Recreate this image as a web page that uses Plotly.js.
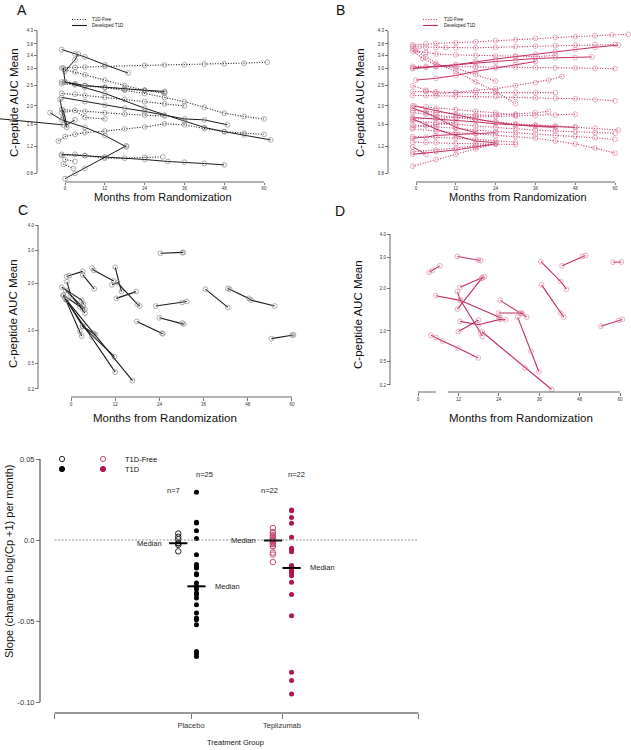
<!DOCTYPE html>
<html><head><meta charset="utf-8">
<script src="https://cdn.plot.ly/plotly-3.0.1.min.js"></script>
<style>html,body{margin:0;padding:0;background:#fff}#chart{width:631px;height:750px}</style>
</head><body><div id="chart"></div>
<script>
// ================= DATA =================
const monthTicks = [0, 12, 24, 36, 48, 60];
const cpTicksAB = [0.8, 1.2, 1.6, 2.0, 2.5, 3.0, 3.4, 3.8, 4.3];
const cpTickTextAB = ['0.8','1.2','1.6','2.0','2.5','3.0','3.4','3.8','4.3'];
const cpTicksCD = [0.2, 0.5, 1.0, 2.0, 3.0, 4.0];
const cpTickTextCD = ['0.2','0.5','1.0','2.0','3.0','4.0'];

// Panel A (placebo): each entry = [months, C-peptide]
const aFree = [
  [[-1,3,6,12,24,30,36,42,48,54,61],[3.0,3.02,3.03,3.05,3.08,3.09,3.1,3.12,3.13,3.15,3.18]],
  [[0,3,6,12,18,24,30],[2.95,2.88,2.8,2.65,2.5,2.38,2.3]],
  [[-1,3,6,12,18,24,30],[2.55,2.52,2.5,2.45,2.4,2.37,2.33]],
  [[-1,3,6,12,18,24,30,36,42,48,54,60],[2.6,2.55,2.5,2.45,2.38,2.3,2.2,2.1,1.97,1.84,1.77,1.72]],
  [[-1,3,6,12,18,24,30,36],[2.3,2.28,2.25,2.2,2.15,2.1,2.05,2.0]],
  [[-1,6,12,18,24,30],[1.92,1.88,1.85,1.82,1.8,1.78]],
  [[-1,3,6,12],[1.85,1.9,1.75,1.72]],
  [[-2,0,3,6,12,18,24,30,36,42,48,54,60],[1.3,1.38,1.42,1.45,1.48,1.52,1.56,1.62,1.6,1.53,1.47,1.44,1.42]],
  [[-1,3,6,12,18,24,29.5],[1.06,1.08,1.06,1.02,1.02,1.03,1.04]],
  [[-0.5,2.5],[0.93,0.87]],
  [[0,3],[1.0,0.97]]
];
const aT1D = [
  [[-1,3,6,12,19],[3.6,3.45,3.35,3.1,2.85]],
  [[0,3,4],[2.9,3.25,3.45]],
  [[-0.5,0,6,12,18,24,30],[3.0,2.6,2.5,2.45,2.42,2.38,2.35]],
  [[0,6,12,24,36,42,48,54,62],[2.6,2.45,2.3,1.95,1.67,1.55,1.47,1.41,1.32]],
  [[-1,6,12,18,24,30,36,42,49],[2.2,2.1,2.02,1.95,1.88,1.8,1.72,1.7,1.6]],
  [[-1,6,12,24,31,36,42,48],[1.08,1.06,1.04,1.0,0.97,0.96,0.94,0.92]],
  [[0,3,6,18.5],[0.73,0.8,0.87,1.22]],
  [[-4.5,-1,6,12,18.5],[1.85,1.7,1.55,1.4,1.2]],
  [[-21,-0.5],[1.73,1.6]],
  [[-1.5,-0.5,0.5],[2.15,1.75,1.55]],
  [[-0.5,0.5,3],[1.9,1.6,1.7]]
];

// Panel B (teplizumab)
const bFree = [
  [[-1,3,6,12,18,24,30,36,42,48,54,59,64],[3.77,3.8,3.82,3.85,3.88,3.92,3.95,4.01,4.04,4.07,4.11,4.14,4.16]],
  [[-1,1,3,6,9,12,18,24,30,36,42,48,54,60],[3.72,3.7,3.68,3.68,3.67,3.66,3.66,3.68,3.7,3.72,3.74,3.76,3.78,3.78]],
  [[-1,0,3,6,12,18,24,30,36,42],[3.65,3.55,3.5,3.45,3.42,3.4,3.38,3.38,3.36,3.4]],
  [[-0.5,3,6,12,18,24,30],[3.6,3.35,3.15,2.9,2.6,2.35,2.05]],
  [[-1,2,6,12,18,24],[3.55,3.3,3.1,3.0,2.8,2.62]],
  [[-1,3,6,12,18,24,30,36,42,48,54,60],[3.05,3.05,3.04,3.05,3.04,3.03,3.02,3.02,3.0,3.0,2.99,2.98]],
  [[-1,3,6,12,18,24,30,36,40,44],[2.5,2.38,2.3,2.32,2.38,2.42,2.5,2.58,2.65,2.75]],
  [[-1,3,6,12,18,24,30,36,42],[2.35,2.35,2.34,2.32,2.32,2.32,2.33,2.32,2.32]],
  [[-1,3,6,12,18,24,30,36,42,48,54,60],[2.25,2.25,2.24,2.23,2.22,2.22,2.2,2.19,2.18,2.17,2.15,2.12]],
  [[-1,3,6,12,18,24,30],[2.0,1.98,1.95,1.92,1.88,1.85,1.8]],
  [[-1,6,12,18,24,30,36,42,48],[1.72,1.74,1.75,1.76,1.77,1.78,1.79,1.8,1.82]],
  [[-1,3,6,12,18,24,30,36,42,48,54,61],[1.85,1.82,1.8,1.75,1.7,1.66,1.62,1.6,1.58,1.56,1.53,1.5]],
  [[-1,6,12,18,24,30,36,42,48,54,60],[1.68,1.64,1.6,1.58,1.55,1.52,1.5,1.48,1.47,1.45,1.44]],
  [[-1,6,12,18,24,30,36,42,48,54,60],[1.6,1.56,1.53,1.5,1.47,1.45,1.42,1.4,1.38,1.36,1.33]],
  [[-1,6,12,18,24,30,36,42,48,54,60],[1.52,1.48,1.45,1.43,1.4,1.38,1.35,1.3,1.25,1.18,1.1]],
  [[-1,6,12,18,24,30],[1.38,1.37,1.35,1.33,1.3,1.28]],
  [[-1,6,12,18,24],[1.12,1.15,1.18,1.22,1.25]],
  [[-1,6,12,18,24],[0.9,1.0,1.08,1.17,1.25]],
  [[-1,3,6,12,18,24,30,36,40],[1.9,1.88,1.85,1.82,1.8,1.8,1.82,1.85,1.88]],
  [[-1,3,6,12],[1.55,1.58,1.6,1.65]],
  [[-1,3,6,12,18,24,30],[1.28,1.28,1.27,1.26,1.25,1.25,1.24]]
];
const bT1D = [
  [[-1,3,6,12,18,24,30,36,42,48,54,61],[3.0,3.02,3.05,3.1,3.2,3.28,3.36,3.44,3.52,3.6,3.68,3.76]],
  [[-1,6,12,18,24,30,36,42,48,53],[2.98,3.05,3.1,3.15,3.2,3.25,3.3,3.32,3.33,3.35]],
  [[0,6,12,18,24,30,36],[2.65,2.7,2.78,2.9,3.0,3.1,3.2]],
  [[-0.5,6,12,18,24,30,36,42],[2.0,1.9,1.8,1.72,1.65,1.6,1.57,1.55]],
  [[-1,6,12,18,24,30,36,42,48],[1.75,1.72,1.7,1.66,1.62,1.6,1.58,1.56,1.55]],
  [[-1,3,6,12,18,24],[1.72,1.6,1.52,1.4,1.3,1.27]],
  [[-1,3,6,12,18,24],[1.35,1.37,1.4,1.42,1.44,1.45]],
  [[-1,3],[1.2,1.08]],
  [[-1,6,12,18,24],[1.08,1.12,1.15,1.2,1.25]],
  [[-1,3,6,9,12,18],[1.95,1.85,1.75,1.65,1.55,1.45]]
];

// Panel C (placebo, after diagnosis) and D (teplizumab, after diagnosis)
const cSegments = [
  [[24.3,30.2,30.5],[2.91,2.93,2.94]],
  [[23.0,30.2,31.4],[1.47,1.55,1.57]],
  [[24.0,30.2,30.6],[1.23,1.13,1.11]],
  [[17.9,24.7,24.9],[1.16,0.95,0.94]],
  [[36.5,42.6],[1.86,1.44]],
  [[42.6,43.1,48.3,48.9,55.3],[1.88,1.86,1.64,1.6,1.47]],
  [[54.4,60.1,60.4],[0.86,0.92,0.92]],
  [[12.0,13.7],[2.46,1.80]],
  [[11.1,12.6,18.0,18.7],[1.97,2.03,1.51,1.47]],
  [[12.3,17.7],[1.64,1.80]],
  [[-1.2,-0.45,3.2],[2.19,2.22,2.34]],
  [[5.7,6.2,11.6],[2.44,2.37,2.07]],
  [[3.2,6.3],[2.24,1.87]],
  [[-2.5,2.9,3.4],[1.91,1.6,1.51]],
  [[-1.4,3.2,3.8],[1.83,1.46,1.40]],
  [[-1.1,0.0,3.2],[2.05,1.70,1.40]],
  [[-2.1,2.4,3.8],[1.72,1.46,1.32]],
  [[-1.6,2.4,2.9],[1.64,0.98,0.90]],
  [[-1.2,3.2,6.0,6.5],[1.60,1.07,0.95,0.92]],
  [[3.2,11.8],[1.07,0.59]],
  [[-2.1,5.7,12.0],[1.70,0.88,0.39]],
  [[-1.2,6.5,16.7],[1.60,0.93,0.29]]
];
const dSegments = [
  [[3.3,4.3,6.5],[2.48,2.54,2.70]],
  [[11.7,17.9,18.6],[3.04,2.91,2.89]],
  [[12.5,18.9,19.7],[2.02,2.29,2.34]],
  [[11.7,19.1],[1.46,2.31]],
  [[5.3,12.5,24.0,24.5],[1.79,1.67,1.28,1.26]],
  [[11.7,12.5,18.6,19.1],[1.90,1.69,0.96,0.90]],
  [[19.1,31.8,39.7],[0.98,0.41,0.15]],
  [[12.5,18.0,24.4,26.0],[1.19,1.12,1.23,1.22]],
  [[12.0,18.0],[0.99,1.22]],
  [[3.9,5.4,7.3,12.0,17.9],[0.92,0.88,0.82,0.70,0.55]],
  [[24.4,30.3,30.8],[1.67,1.37,1.35]],
  [[23.9,30.8,32.3],[1.37,1.37,1.28]],
  [[29.6,33.6,35.9],[1.28,0.65,0.36]],
  [[36.5,42.4,44.1],[2.85,2.19,1.97]],
  [[36.7,42.4,43.3],[2.09,1.37,1.28]],
  [[42.8,48.8,49.7],[2.70,3.04,3.08]],
  [[54.3,59.7,60.7],[1.09,1.21,1.23]],
  [[57.9,60.4],[2.83,2.84]]
];

// Panel E: slopes
const groupNames = ['Placebo', 'Teplizumab'];
const slopePlaceboFree = [0.004, 0.002, 0.0005, -0.002, -0.002, -0.003, -0.007];
const slopePlaceboT1D = [0.0294, 0.0109, 0.0105, 0.0057, 0.001, -0.0091, -0.0152, -0.0165, -0.0173, -0.0208, -0.0215, -0.0265, -0.0286, -0.0302, -0.0327, -0.0338, -0.0358, -0.0399, -0.045, -0.0481, -0.0492, -0.0523, -0.0688, -0.0702, -0.0719];
const slopeTepFree = [0.0074, 0.0049, 0.0043, 0.003, 0.0025, 0.0015, 0.001, 0.0004, 0.0002, 0.0, -0.0002, -0.0004, -0.0006, -0.001, -0.0016, -0.002, -0.0025, -0.0037, -0.004, -0.0078, -0.009, -0.0136];
const slopeTepT1D = [0.0185, 0.018, 0.0139, 0.0104, 0.0017, -0.0051, -0.0061, -0.0072, -0.0158, -0.0164, -0.017, -0.0175, -0.0185, -0.0193, -0.0203, -0.022, -0.0261, -0.0337, -0.0467, -0.0817, -0.0868, -0.0951];
const slopeTicks = [0.05, 0.0, -0.05, -0.10];
const slopeTickText = ['0.05', '0.0', '-0.05', '-0.10'];

// ================= STYLE / GEOMETRY =================
const W = 631, H = 750;
const FONT = 'Liberation Sans, Arial, sans-serif';
const BLACK_LINE = '#1a1a1a', GRAY_MK = '#8a8a8a';
const CRIMSON_LINE = '#C42C5E', PINK_MK = '#DC8AA6';
const CRIMSON_DOT = '#B3164B', CRIMSON_OPEN = '#C94F78';
const DOTTED = '1px,1.6px';
const toV = c => Math.log(c + 1);
const fx = px => px / W;
const fy = py => 1 - py / H;

function xAxis(dom, zeroPx, ppu, posPy, vals, text, fs, tl) {
  return { domain: [fx(dom[0]), fx(dom[1])], range: [(dom[0] - zeroPx) / ppu, (dom[1] - zeroPx) / ppu],
    anchor: 'free', position: fy(posPy), tickmode: 'array', tickvals: vals, ticktext: text,
    ticks: 'outside', ticklen: tl, tickwidth: 0.8, tickcolor: '#555', tickfont: { size: fs, color: '#333', family: FONT },
    showgrid: false, zeroline: false, showline: false, fixedrange: true };
}
function yAxis(dom, refPy, refVal, ppu, posPx, vals, text, fs, tl) {
  return { domain: [fy(dom[1]), fy(dom[0])], range: [refVal - (dom[1] - refPy) / ppu, refVal + (refPy - dom[0]) / ppu],
    anchor: 'free', position: fx(posPx), tickmode: 'array', tickvals: vals, ticktext: text,
    ticks: 'outside', ticklen: tl, tickwidth: 0.8, tickcolor: '#555', tickfont: { size: fs, color: '#333', family: FONT },
    showgrid: false, zeroline: false, showline: false, fixedrange: true };
}

const G = {
  A: { xd: [0, 281], x0: 65, xppu: 3.317, yd: [12, 190], yRefPy: 68, yRef: toV(3.0), yppu: 132, yPos: 37, xPos: 182 },
  B: { xd: [345, 631], x0: 416, xppu: 3.317, yd: [12, 190], yRefPy: 68, yRef: toV(3.0), yppu: 132, yPos: 388, xPos: 182 },
  C: { xd: [28, 300], x0: 71, xppu: 3.683, yd: [212, 402], yRefPy: 225, yRef: toV(4.0), yppu: 114.9, yPos: 38, xPos: 397 },
  D: { xd: [396, 631], x0: 418, xppu: 3.367, yd: [212, 402], yRefPy: 234, yRef: toV(4.0), yppu: 105.8, yPos: 390, xPos: 392 },
  E: { xd: [45, 430], x0: 100, xppu: 91, yd: [445, 712], yRefPy: 540, yRef: 0, yppu: 1620, yPos: 40, xPos: 713 }
};

// ================= TRACES =================
const traces = [];
function addLines(list, xa, ya, dash, lc, mc, lw) {
  list.forEach(p => traces.push({
    x: p[0], y: p[1].map(toV), xaxis: xa, yaxis: ya, type: 'scatter', mode: 'lines+markers',
    line: { color: lc, width: lw, dash: dash },
    marker: { symbol: 'circle-open', size: 4.8, color: mc, line: { width: 0.7 } },
    hoverinfo: 'skip', showlegend: false
  }));
}
addLines(aFree, 'x', 'y', DOTTED, BLACK_LINE, GRAY_MK, 1.1);
addLines(aT1D, 'x', 'y', 'solid', BLACK_LINE, GRAY_MK, 1.0);
addLines(bFree, 'x2', 'y2', DOTTED, CRIMSON_LINE, PINK_MK, 1.1);
addLines(bT1D, 'x2', 'y2', 'solid', CRIMSON_LINE, PINK_MK, 1.0);
addLines(cSegments, 'x3', 'y3', 'solid', BLACK_LINE, GRAY_MK, 1.1);
addLines(dSegments, 'x4', 'y4', 'solid', CRIMSON_LINE, PINK_MK, 1.1);

// Panel E
const median = a => { const s = [...a].sort((p, q) => p - q); const n = s.length; return n % 2 ? s[(n - 1) / 2] : (s[n / 2 - 1] + s[n / 2]) / 2; };
const eGroups = [
  { vals: slopePlaceboFree, xc: 0.86, filled: false, color: '#222', medSide: 'left', nDx: -0.05, nY: 0.0307 },
  { vals: slopePlaceboT1D, xc: 1.06, filled: true, color: '#000', medSide: 'right', nDx: 0.09, nY: 0.0407 },
  { vals: slopeTepFree, xc: 1.90, filled: false, color: CRIMSON_OPEN, medSide: 'left', nDx: -0.04, nY: 0.0307 },
  { vals: slopeTepT1D, xc: 2.105, filled: true, color: CRIMSON_DOT, medSide: 'right', nDx: 0.05, nY: 0.0407 }
];
const eAnn = [];
eGroups.forEach(g => {
  traces.push({
    x: g.vals.map(() => g.xc), y: g.vals, xaxis: 'x5', yaxis: 'y5', type: 'scatter', mode: 'markers',
    marker: g.filled ? { symbol: 'circle', size: 5, color: g.color } : { symbol: 'circle-open', size: 5.5, color: g.color, line: { width: 1 } },
    hoverinfo: 'skip', showlegend: false
  });
  const m = median(g.vals);
  traces.push({
    x: [g.xc - 0.1, g.xc + 0.1], y: [m, m], xaxis: 'x5', yaxis: 'y5', type: 'scatter', mode: 'lines',
    line: { color: '#000', width: 2 }, hoverinfo: 'skip', showlegend: false
  });
  eAnn.push({ xref: 'x5', yref: 'y5', x: g.medSide === 'left' ? g.xc - 0.16 : g.xc + 0.18, y: m,
    text: 'Median', showarrow: false, xanchor: g.medSide === 'left' ? 'right' : 'left', yanchor: 'middle',
    font: { size: 7.5, color: '#222', family: FONT } });
  eAnn.push({ xref: 'x5', yref: 'y5', x: g.xc + g.nDx, y: g.nY, text: 'n=' + g.vals.length, showarrow: false,
    xanchor: 'center', yanchor: 'middle', font: { size: 7.5, color: '#222', family: FONT } });
});

// ================= LAYOUT =================
const layout = {
  width: W, height: H, margin: { l: 0, r: 0, t: 0, b: 0 }, autosize: false,
  paper_bgcolor: '#fff', plot_bgcolor: 'rgba(0,0,0,0)', showlegend: false, font: { family: FONT },
  xaxis: xAxis(G.A.xd, G.A.x0, G.A.xppu, G.A.xPos, monthTicks, monthTicks.map(String), 4.5, 2),
  yaxis: yAxis(G.A.yd, G.A.yRefPy, G.A.yRef, G.A.yppu, G.A.yPos, cpTicksAB.map(toV), cpTickTextAB, 4.5, 3),
  xaxis2: xAxis(G.B.xd, G.B.x0, G.B.xppu, G.B.xPos, monthTicks, monthTicks.map(String), 4.5, 2),
  yaxis2: yAxis(G.B.yd, G.B.yRefPy, G.B.yRef, G.B.yppu, G.B.yPos, cpTicksAB.map(toV), cpTickTextAB, 4.5, 3),
  xaxis3: xAxis(G.C.xd, G.C.x0, G.C.xppu, G.C.xPos, monthTicks, monthTicks.map(String), 4.5, 3),
  yaxis3: yAxis(G.C.yd, G.C.yRefPy, G.C.yRef, G.C.yppu, G.C.yPos, cpTicksCD.map(toV), cpTickTextCD, 4.5, 3),
  xaxis4: xAxis(G.D.xd, G.D.x0, G.D.xppu, G.D.xPos, monthTicks, monthTicks.map(String), 4.5, 3),
  yaxis4: yAxis(G.D.yd, G.D.yRefPy, G.D.yRef, G.D.yppu, G.D.yPos, cpTicksCD.map(toV), cpTickTextCD, 4.5, 3),
  xaxis5: xAxis(G.E.xd, G.E.x0, G.E.xppu, G.E.xPos, [-0.5, 1, 2, 3.5], ['', groupNames[0], groupNames[1], ''], 7.5, 5),
  yaxis5: yAxis(G.E.yd, G.E.yRefPy, G.E.yRef, G.E.yppu, G.E.yPos, slopeTicks, slopeTickText, 7.5, 4)
};

// axis lines (R style: span first..last tick)
const AX = '#555';
const shapes = [];
function axisLines(g, xa, ya, yLo, yHi, xLo, xHi) {
  shapes.push({ type: 'line', xref: 'paper', yref: ya, x0: fx(g.yPos), x1: fx(g.yPos), y0: yLo, y1: yHi, line: { color: AX, width: 0.9 } });
  shapes.push({ type: 'line', xref: xa, yref: 'paper', x0: xLo, x1: xHi, y0: fy(g.xPos), y1: fy(g.xPos), line: { color: AX, width: 0.9 } });
}
axisLines(G.A, 'x', 'y', toV(0.8), toV(4.3), 0, 60);
axisLines(G.B, 'x2', 'y2', toV(0.8), toV(4.3), 0, 60);
axisLines(G.C, 'x3', 'y3', toV(0.2), toV(4.0), 0, 60);
// D: y line + broken x line
shapes.push({ type: 'line', xref: 'paper', yref: 'y4', x0: fx(G.D.yPos), x1: fx(G.D.yPos), y0: toV(0.2), y1: toV(4.0), line: { color: AX, width: 0.9 } });
shapes.push({ type: 'line', xref: 'x4', yref: 'paper', x0: 0, x1: 5.3, y0: fy(G.D.xPos), y1: fy(G.D.xPos), line: { color: AX, width: 0.9 } });
shapes.push({ type: 'line', xref: 'x4', yref: 'paper', x0: 8.9, x1: 60, y0: fy(G.D.xPos), y1: fy(G.D.xPos), line: { color: AX, width: 0.9 } });
// E axes
shapes.push({ type: 'line', xref: 'paper', yref: 'y5', x0: fx(G.E.yPos), x1: fx(G.E.yPos), y0: -0.10, y1: 0.05, line: { color: '#333', width: 1 } });
shapes.push({ type: 'line', xref: 'x5', yref: 'paper', x0: -0.5, x1: 3.5, y0: fy(G.E.xPos), y1: fy(G.E.xPos), line: { color: '#333', width: 1 } });
shapes.push({ type: 'line', xref: 'x5', yref: 'y5', x0: -0.5, x1: 3.5, y0: 0, y1: 0, line: { color: '#777', width: 0.8, dash: '2px,1.5px' } });

// small legends of A and B
function miniLegend(x0px, x1px, lc) {
  shapes.push({ type: 'line', xref: 'paper', yref: 'paper', x0: fx(x0px), x1: fx(x1px), y0: fy(19.5), y1: fy(19.5), line: { color: lc, width: 1.2, dash: DOTTED } });
  shapes.push({ type: 'line', xref: 'paper', yref: 'paper', x0: fx(x0px), x1: fx(x1px), y0: fy(25.5), y1: fy(25.5), line: { color: lc, width: 1.1 } });
}
miniLegend(72, 87, BLACK_LINE);
miniLegend(423, 438, CRIMSON_LINE);

// E legend markers
function dot(px, py, filled, color) {
  shapes.push({ type: 'circle', xref: 'paper', yref: 'paper', xsizemode: 'pixel', ysizemode: 'pixel',
    xanchor: fx(px), yanchor: fy(py), x0: -2.6, x1: 2.6, y0: -2.6, y1: 2.6,
    line: { color: color, width: 1 }, fillcolor: filled ? color : 'rgba(0,0,0,0)' });
}
dot(62, 459, false, '#222'); dot(62, 469, true, '#000');
dot(103, 459, false, CRIMSON_OPEN); dot(103, 469, true, CRIMSON_DOT);
layout.shapes = shapes;

// ================= TEXT =================
const ann = [];
function txt(px, py, s, size, opts) {
  ann.push(Object.assign({ xref: 'paper', yref: 'paper', x: fx(px), y: fy(py), text: s, showarrow: false,
    xanchor: 'center', yanchor: 'middle', font: { size: size, color: '#111', family: FONT } }, opts || {}));
}
txt(22, 10, 'A', 14); txt(340, 10, 'B', 14); txt(23, 210, 'C', 14); txt(340, 211, 'D', 14);
txt(90, 19.5, 'T1D-Free', 4.5, { xanchor: 'left' });
txt(90, 25.5, 'Developed T1D', 4.5, { xanchor: 'left' });
txt(442, 19.5, 'T1D-Free', 4.5, { xanchor: 'left' });
txt(442, 25.5, 'Developed T1D', 4.5, { xanchor: 'left' });
const XT = 'Months from Randomization', YT = 'C-peptide AUC Mean';
txt(163, 197.5, XT, 11); txt(518, 197.5, XT, 11); txt(165, 418, XT, 11.5); txt(521, 418, XT, 11.5);
txt(14, 103, YT, 11.5, { textangle: -90 }); txt(360, 103, YT, 11.5, { textangle: -90 });
txt(13, 314, YT, 11.5, { textangle: -90 }); txt(358, 315, YT, 11.5, { textangle: -90 });
txt(9, 561, 'Slope (change in log(Cp +1) per month)', 11, { textangle: -90 });
txt(236, 742, 'Treatment Group', 7.5);
txt(123, 459, 'T1D-Free', 7.5, { xanchor: 'left' });
txt(123, 469, 'T1D', 7.5, { xanchor: 'left' });
layout.annotations = ann.concat(eAnn);

Plotly.newPlot('chart', traces, layout, { displayModeBar: false, staticPlot: true });
</script></body></html>
